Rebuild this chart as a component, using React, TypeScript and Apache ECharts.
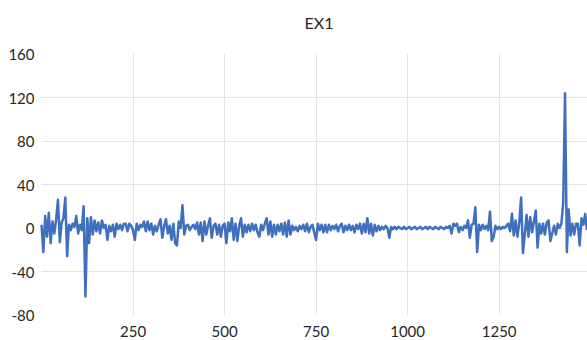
import React, { useEffect, useRef } from "react";
import * as echarts from "echarts";

// Sample spacing along the x axis (observation index)
const STEP = 5;

// Series values, one per STEP, x = 0 .. 1490
const ex1Values: number[] = [
  3, -22, 11, -8, 14, -14, 6, -5, 8, 26,
  -13, 5, 9, 28, -26, 3, -2, 4, 1, 11,
  -5, 3, -2, 20, -63, 9, -14, 10, -6, 7,
  -3, 5, -5, 7, 0, 3, -11, 2, -3, 3,
  -8, 4, -1, 3, -2, 4, 4, -3, 4, 2,
  -2, -11, 4, -2, 3, 1, 6, -3, 6, -2,
  4, -6, 2, -3, 3, 8, -9, 2, 8, -5,
  2, -11, 4, -14, -16, 6, 0, 21, -6, 2,
  3, -2, 1, 3, -1, 5, -6, 5, -12, 6,
  -6, 2, 9, -9, 2, 4, -6, 3, -8, 2,
  4, -14, 5, -3, 9, -11, 4, -12, 2, 9,
  -8, 3, -4, 3, -3, 4, -2, 3, -4, -8,
  3, -2, 4, 9, -6, 6, -8, 3, -6, 3,
  -3, 4, -6, 5, -8, 7, -6, 2, -2, 1,
  -3, 2, -1, 3, -3, 4, -4, 1, 3, -4,
  -11, 4, -2, 3, -4, 3, -4, 3, -2, 2,
  -1, 3, -3, 2, 4, -4, 2, -2, 3, -2,
  2, -4, 3, -1, 4, -5, 4, -4, 9, -5,
  4, -7, 3, -3, 2, -2, 1, -1, 2, 0,
  -9, 1, -1, 1, -1, 1, 0, -1, 1, -1,
  0, 1, -1, 0, 1, -1, 0, 1, -1, 0,
  1, -1, 1, 0, -1, 1, 0, -1, 1, 0,
  -1, 1, 0, 2, -5, 4, 2, 4, -4, 1,
  -2, 2, 0, 7, -9, 3, 4, 19, -22, 3,
  -2, 3, -1, 2, -2, 15, -12, -8, 2, -1,
  1, -1, 1, 0, 2, 4, -3, 13, -7, 7,
  -8, 5, 28, -23, -6, 12, -8, 10, -4, 6,
  16, -18, 4, -5, 4, -6, 5, 7, -12, -5,
  2, -6, 4, 0, 4, 23, 124, -22, 17, -7,
  4, -6, 4, 4, -16, 9, 3, 13, -2,
];

const titleText = "EX1";
const xMin = 0;
const xMax = 1490;
const xInterval = 250;
const yMin = -80;
const yMax = 160;
const yInterval = 40;

const FONT = "Lato, 'Noto Sans', sans-serif";
const TEXT_COLOR = "#262626";
const GRID_COLOR = "#e3e3e3";
const LINE_COLOR = "#3f6fbf";

export default function App() {
  const ref = useRef<HTMLDivElement>(null);

  useEffect(() => {
    if (!ref.current) return;
    const chart = echarts.init(ref.current, null, { renderer: "svg" });
    const data = ex1Values.map((v, i) => [i * STEP, v]);
    chart.setOption({
      animation: false,
      backgroundColor: "#ffffff",
      title: {
        text: titleText,
        left: 314,
        top: 9,
        textAlign: "center",
        textStyle: {
          fontFamily: FONT,
          fontSize: 16,
          fontWeight: "normal",
          color: TEXT_COLOR,
        },
      },
      grid: { left: 41.5, right: 0, top: 54, bottom: 25, containLabel: false },
      xAxis: {
        type: "value",
        min: xMin,
        max: xMax,
        interval: xInterval,
        axisLine: { show: false },
        axisTick: { show: false },
        axisLabel: {
          showMinLabel: false,
          showMaxLabel: false,
          margin: 8,
          fontFamily: FONT,
          fontSize: 15,
          color: TEXT_COLOR,
          formatter: (v: number) => String(v),
        },
        splitLine: {
          show: true,
          showMinLine: false,
          showMaxLine: false,
          lineStyle: { color: GRID_COLOR, width: 1 },
        },
      },
      yAxis: {
        type: "value",
        min: yMin,
        max: yMax,
        interval: yInterval,
        axisLine: { show: false },
        axisTick: { show: false },
        axisLabel: {
          margin: 7,
          fontFamily: FONT,
          fontSize: 15,
          color: TEXT_COLOR,
          formatter: (v: number) => String(v),
        },
        splitLine: {
          show: true,
          showMinLine: false,
          showMaxLine: false,
          lineStyle: { color: GRID_COLOR, width: 1 },
        },
      },
      series: [
        {
          type: "line",
          name: titleText,
          data,
          showSymbol: false,
          symbol: "none",
          lineStyle: { color: LINE_COLOR, width: 2.5, join: "round" },
          itemStyle: { color: LINE_COLOR },
        },
      ],
    });
    return () => chart.dispose();
  }, []);

  return (
    <div
      ref={ref}
      style={{ position: "fixed", left: 0, top: 0, width: 587, height: 340 }}
    />
  );
}
